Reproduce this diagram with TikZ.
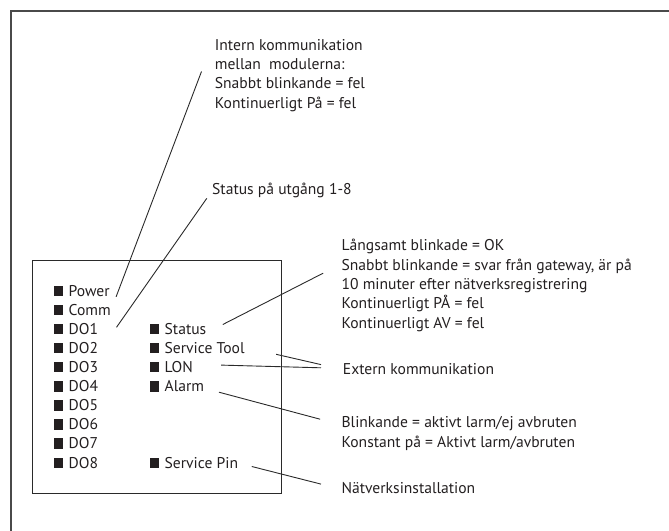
\documentclass[tikz,border=0pt]{standalone}
\usepackage{fontspec}
\setmainfont{PT Sans}
\definecolor{txt}{HTML}{231F20}
\definecolor{ln}{HTML}{2A2A2A}
\definecolor{frm}{HTML}{4A4A4A}
\begin{document}
\begin{tikzpicture}[x=1pt,y=-1pt,
  lbl/.style={anchor=base west, inner sep=0pt, font=\fontsize{15.6}{18}\selectfont, text=txt},
  led/.style={fill=txt, minimum width=9.5pt, minimum height=10.5pt, inner sep=0pt, anchor=center},
  conn/.style={draw=ln, line width=0.9pt},
  boxline/.style={draw=ln, line width=1pt},
  frameline/.style={draw=frm, line width=1.6pt}]
\useasboundingbox (0,0) rectangle (669,530);
% outer frame
\coordinate (fbl) at (10.7,531);
\coordinate (ftl) at (10.7,10.8);
\coordinate (ftr) at (670,10.8);
\draw[frameline] (fbl) -- (ftl) -- (ftr);
% inner box
\coordinate (bx1) at (32.5,260);
\coordinate (bx2) at (281.7,493.5);
\draw[boxline] (bx1) rectangle (bx2);
% left column
\node[led] (sq1) at (58.5,290.8) {};
\node[lbl] (power) at (68.5,296) {Power};
\node[led] (sq2) at (58.5,309.9) {};
\node[lbl] (comm) at (68.5,315.1) {Comm};
\node[led] (sq3) at (58.5,329) {};
\node[lbl] (do1) at (68.5,334.2) {DO1};
\node[led] (sq4) at (58.5,348.1) {};
\node[lbl] (do2) at (68.5,353.3) {DO2};
\node[led] (sq5) at (58.5,367.2) {};
\node[lbl] (do3) at (68.5,372.4) {DO3};
\node[led] (sq6) at (58.5,386.3) {};
\node[lbl] (do4) at (68.5,391.5) {DO4};
\node[led] (sq7) at (58.5,405.4) {};
\node[lbl] (do5) at (68.5,410.6) {DO5};
\node[led] (sq8) at (58.5,424.5) {};
\node[lbl] (do6) at (68.5,429.7) {DO6};
\node[led] (sq9) at (58.5,443.6) {};
\node[lbl] (do7) at (68.5,448.8) {DO7};
\node[led] (sq10) at (58.5,462.8) {};
\node[lbl] (do8) at (68.5,468) {DO8};
% right column
\node[led] (sr1) at (154.5,329) {};
\node[lbl] (status) at (164.5,334.2) {Status};
\node[led] (sr2) at (154.5,348.1) {};
\node[lbl] (stool) at (164.5,353.3) {Service Tool};
\node[led] (sr3) at (154.5,367.2) {};
\node[lbl] (lon) at (164.5,372.4) {LON};
\node[led] (sr4) at (154.5,386.3) {};
\node[lbl] (alarm) at (164.5,391.5) {Alarm};
\node[led] (sr5) at (154.5,462.8) {};
\node[lbl] (spin) at (164.5,468) {Service Pin};
% annotations
\node[lbl] (i1) at (214.7,50) {Intern kommunikation};
\node[lbl] (i2) at (214.7,69.3) {mellan\ \ modulerna:};
\node[lbl] (i3) at (214.7,88.6) {Snabbt blinkande = fel};
\node[lbl] (i4) at (214.7,108) {Kontinuerligt På = fel};
\node[lbl] (s1) at (212,194) {Status på utgång 1-8};
\node[lbl] (r1) at (341.4,250.8) {Långsamt blinkade = OK};
\node[lbl] (r2) at (341.4,270.3) {Snabbt blinkande = svar från gateway, är på};
\node[lbl] (r3) at (341.4,289.5) {10 minuter efter nätverksregistrering};
\node[lbl] (r4) at (341.4,308.6) {Kontinuerligt PÅ = fel};
\node[lbl] (r5) at (341.4,328) {Kontinuerligt AV = fel};
\node[lbl] (ext) at (342.7,374.5) {Extern kommunikation};
\node[lbl] (b1) at (341.4,427) {Blinkande = aktivt larm/ej avbruten};
\node[lbl] (b2) at (341.4,447) {Konstant på = Aktivt larm/avbruten};
\node[lbl] (nat) at (341.4,493) {Nätverksinstallation};
% connector end points
\coordinate (pw0) at (116.1,296.8);
\coordinate (pw1) at (201.5,71.5);
\coordinate (do0) at (116.5,327.3);
\coordinate (do9) at (206.8,198.3);
\coordinate (st0) at (222.8,324.5);
\coordinate (st1) at (323.1,273.2);
\coordinate (sv0) at (276.1,354.3);
\coordinate (ex0) at (321,364.6);
\coordinate (ln0) at (221.1,365.1);
\coordinate (ex1) at (321,367.8);
\coordinate (al0) at (219,392.2);
\coordinate (al1) at (320.1,419.2);
\coordinate (sp0) at (251.8,466.5);
\coordinate (sp1) at (321,484.1);
\draw[conn] (pw0) -- (pw1);
\draw[conn] (do0) -- (do9);
\draw[conn] (st0) -- (st1);
\draw[conn] (sv0) -- (ex0);
\draw[conn] (ln0) -- (ex1);
\draw[conn] (al0) -- (al1);
\draw[conn] (sp0) -- (sp1);
\end{tikzpicture}
\end{document}
